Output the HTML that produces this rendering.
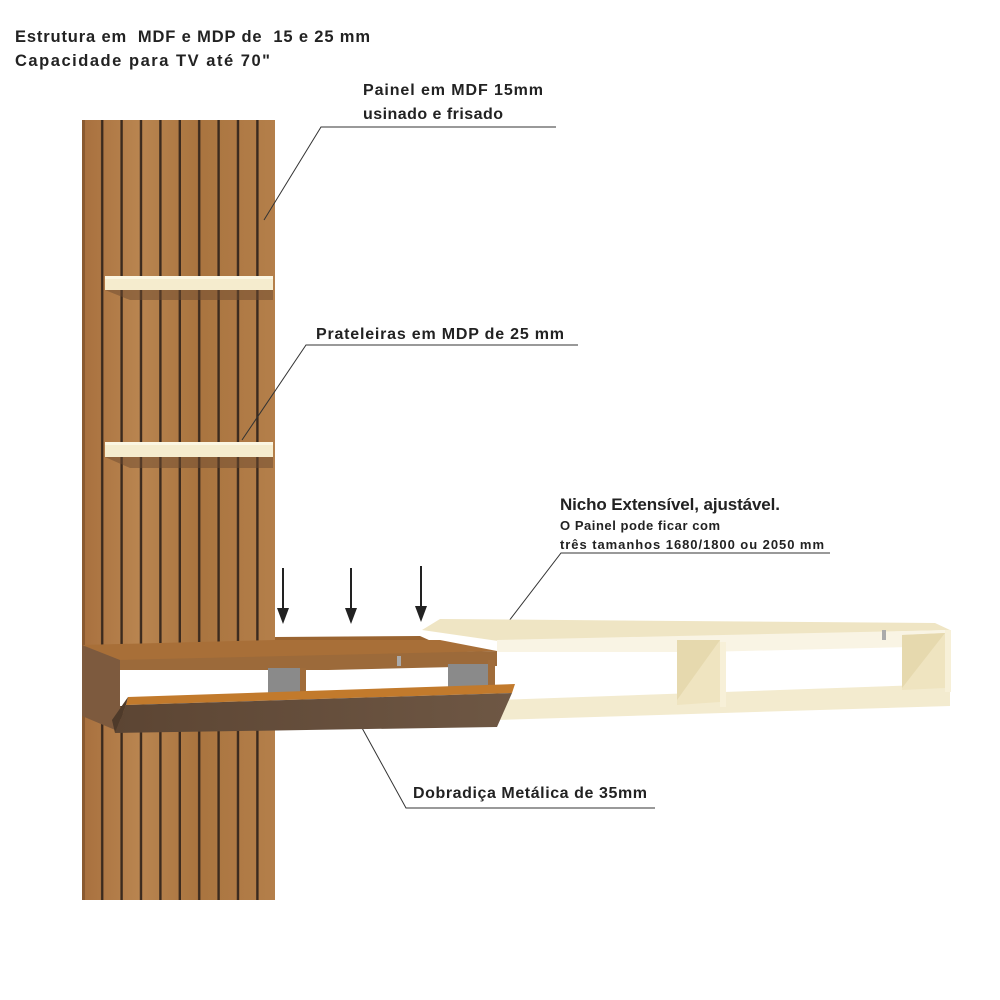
<!DOCTYPE html>
<html><head><meta charset="utf-8"><style>
html,body{margin:0;padding:0;background:#fff;}
svg{display:block}
text{font-family:"Liberation Sans",sans-serif;font-weight:bold;fill:#222;white-space:pre}
</style></head><body>
<svg width="1000" height="1000" viewBox="0 0 1000 1000" xmlns="http://www.w3.org/2000/svg">
<defs>
<linearGradient id="wood" x1="0" x2="1" y1="0" y2="0">
<stop offset="0" stop-color="#a8703e"/><stop offset="0.3" stop-color="#b98550"/><stop offset="0.6" stop-color="#a9743f"/><stop offset="1" stop-color="#b47f4a"/>
</linearGradient>
<pattern id="slats" x="84" y="0" width="19.4" height="10" patternUnits="userSpaceOnUse">
<rect x="17" y="0" width="3.2" height="10" fill="#3b2a1e"/>
</pattern>
<linearGradient id="dark" x1="0" x2="1"><stop offset="0" stop-color="#5c4533"/><stop offset="1" stop-color="#6e5744"/></linearGradient>
</defs>
<text x="15" y="42" font-size="16.5" textLength="355">Estrutura em  MDF e MDP de  15 e 25 mm</text>
<text x="15" y="66" font-size="16.5" textLength="255">Capacidade para TV até 70"</text>

<rect x="82" y="120" width="193" height="780" fill="url(#wood)"/>
<rect x="82" y="120" width="193" height="780" fill="url(#slats)"/>
<rect x="82" y="120" width="3" height="780" fill="#8a5a30"/>

<polygon points="105,290 273,290 273,300 130,300" fill="#6b4a30" opacity="0.5"/>
<rect x="105" y="276" width="168" height="14" fill="#f5ecce"/>
<rect x="105" y="276" width="168" height="3" fill="#fbf6e2"/>
<polygon points="105,457 273,457 273,468 130,468" fill="#6b4a30" opacity="0.5"/>
<rect x="105" y="442" width="168" height="15" fill="#f5ecce"/>
<rect x="105" y="442" width="168" height="3" fill="#fbf6e2"/>

<text x="363" y="95" font-size="16" textLength="180">Painel em MDF 15mm</text>
<text x="363" y="119" font-size="16" textLength="140">usinado e frisado</text>
<polyline points="556,127 321,127 264,220" fill="none" stroke="#333" stroke-width="1"/>
<text x="316" y="339" font-size="16" textLength="248">Prateleiras em MDP de 25 mm</text>
<polyline points="578,345 306,345 242,440" fill="none" stroke="#333" stroke-width="1"/>
<text x="560" y="510" font-size="17" textLength="220">Nicho Extensível, ajustável.</text>
<text x="560" y="530" font-size="13" textLength="160">O Painel pode ficar com</text>
<text x="560" y="549" font-size="13" textLength="264">três tamanhos 1680/1800 ou 2050 mm</text>
<polyline points="830,553 561,553 502,630" fill="none" stroke="#333" stroke-width="1"/>
<text x="413" y="798" font-size="16" textLength="234">Dobradiça Metálica de 35mm</text>
<polyline points="655,808 406,808 356,717" fill="none" stroke="#333" stroke-width="1"/>

<g stroke="#222" stroke-width="2" fill="#222">
<line x1="283" y1="568" x2="283" y2="610"/><polygon points="277,608 289,608 283,624" stroke="none"/>
<line x1="351" y1="568" x2="351" y2="610"/><polygon points="345,608 357,608 351,624" stroke="none"/>
<line x1="421" y1="566" x2="421" y2="608"/><polygon points="415,606 427,606 421,622" stroke="none"/>
</g>

<polygon points="422,630 440,619 935,623 950,630 505,642" fill="#efe5c4"/>
<polygon points="497,640 950,630 950,646 497,657" fill="#f9f4e4"/>
<rect x="497" y="652" width="453" height="58" fill="#fff"/>
<polygon points="497,700 950,684 950,706 497,720" fill="#f3ebcf"/>
<polygon points="677,640 720,640 720,702 677,705" fill="#efe4c0"/>
<polygon points="677,640 720,640 677,700" fill="#e6d9ae"/>
<polygon points="902,635 945,633 945,688 902,690" fill="#efe4c0"/>
<polygon points="902,635 945,633 902,688" fill="#e6d9ae"/>
<rect x="720" y="642" width="6" height="65" fill="#f7f0d8"/>
<rect x="945" y="630" width="6" height="62" fill="#f7f0d8"/>
<rect x="882" y="630" width="4" height="10" fill="#aaa"/>

<polygon points="275,637 420,636 440,645 275,652" fill="#9a6431"/>
<polygon points="82,645 275,640 440,640 497,651 120,663" fill="#a86f38"/>
<polygon points="118,660 497,651 497,666 118,675" fill="#9c6a3a"/>
<polygon points="82,645 120,660 120,732 82,716" fill="#7d5a3e"/>
<rect x="120" y="670" width="377" height="36" fill="#fff"/>
<rect x="268" y="668" width="37" height="28" fill="#8a8a8a"/>
<rect x="300" y="668" width="6" height="30" fill="#a06c3a"/>
<rect x="448" y="664" width="40" height="28" fill="#8a8a8a"/>
<rect x="488" y="660" width="7" height="32" fill="#a06c3a"/>
<rect x="397" y="656" width="4" height="10" fill="#aaa"/>
<polygon points="128,697 515,684 512,693 126,705" fill="#c27a2c"/>
<polygon points="126,705 512,693 497,727 115,733" fill="url(#dark)"/>
<polygon points="128,697 126,705 115,733 112,720" fill="#4e3a2a"/>
</svg>
</body></html>
